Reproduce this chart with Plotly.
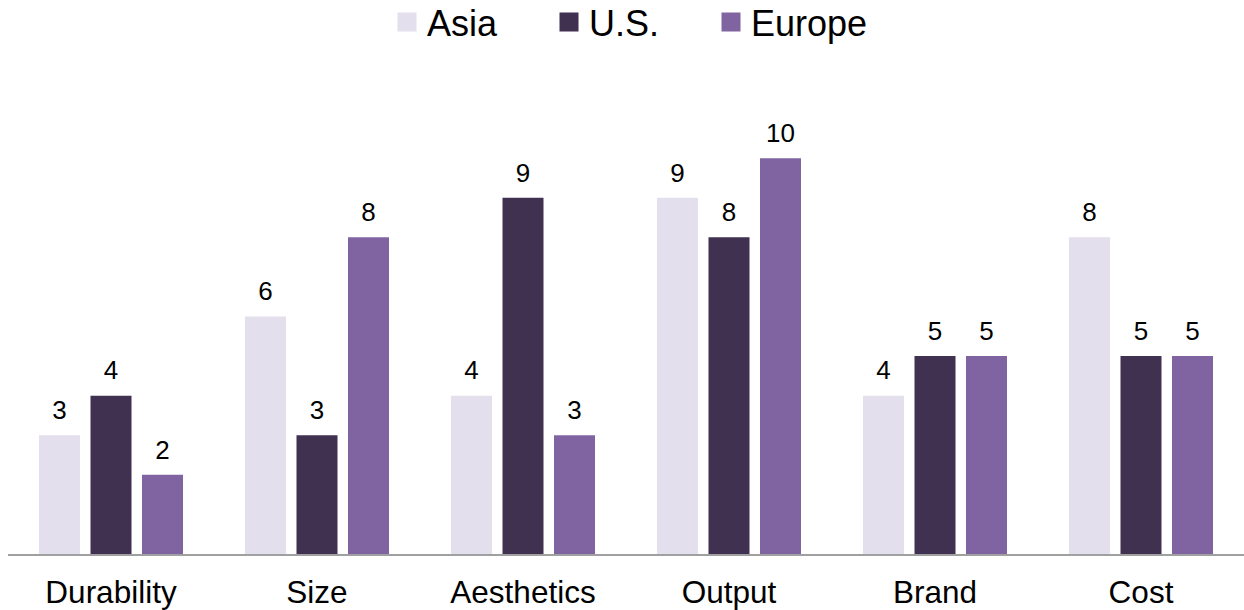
import plotly.graph_objects as go

# Survey scores by attribute and region
categories = ["Durability", "Size", "Aesthetics", "Output", "Brand", "Cost"]
asia = [3, 6, 4, 9, 4, 8]
us = [4, 3, 9, 8, 5, 5]
europe = [2, 8, 3, 10, 5, 5]

series_names = ["Asia", "U.S.", "Europe"]
series_values = [asia, us, europe]
series_colors = ["#E4DFEC", "#403151", "#8064A2"]

FONT = "Liberation Sans, Arial, sans-serif"

fig = go.Figure()

for name, vals, color in zip(series_names, series_values, series_colors):
    # bars
    fig.add_trace(go.Bar(
        x=categories, y=vals, name=name,
        marker=dict(color=color, line=dict(width=0)),
        offsetgroup=name, showlegend=False, hoverinfo="x+y+name",
    ))
    # value labels above the bars (invisible marker sets the text offset)
    fig.add_trace(go.Scatter(
        x=categories, y=vals, mode="markers+text",
        text=[str(v) for v in vals], textposition="top center",
        textfont=dict(family=FONT, size=26, color="#000000"),
        marker=dict(size=14, opacity=0),
        offsetgroup=name, showlegend=False, hoverinfo="skip",
        cliponaxis=False,
    ))
    # legend swatch
    fig.add_trace(go.Scatter(
        x=[None], y=[None], mode="markers", name=name,
        marker=dict(symbol="square", size=16, color=color,
                    line=dict(width=3, color=color)),
        offsetgroup=name, hoverinfo="skip",
    ))

fig.update_layout(
    width=1244, height=610,
    margin=dict(l=8, r=0, t=79, b=56, autoexpand=False),
    paper_bgcolor="white", plot_bgcolor="white",
    barmode="group", bargap=0.25, bargroupgap=0.204,
    scattermode="group", scattergap=0.25,
    font=dict(family=FONT, color="#000000"),
    legend=dict(
        orientation="h", xref="container", yref="container",
        x=387 / 1244, xanchor="left", y=1 - 22 / 610, yanchor="middle",
        font=dict(family=FONT, size=36, color="#000000"),
        entrywidth=117, traceorder="normal",
    ),
    xaxis=dict(
        type="category", showgrid=False, showline=True,
        linecolor="#A0A0A0", linewidth=2, ticks="",
        tickfont=dict(family=FONT, size=31.5, color="#000000"),
        ticklabelstandoff=9, automargin=False,
    ),
    yaxis=dict(
        range=[0, 12], showgrid=False, showline=False, zeroline=False,
        showticklabels=False, ticks="", automargin=False,
    ),
)

fig.write_html("out.html")
